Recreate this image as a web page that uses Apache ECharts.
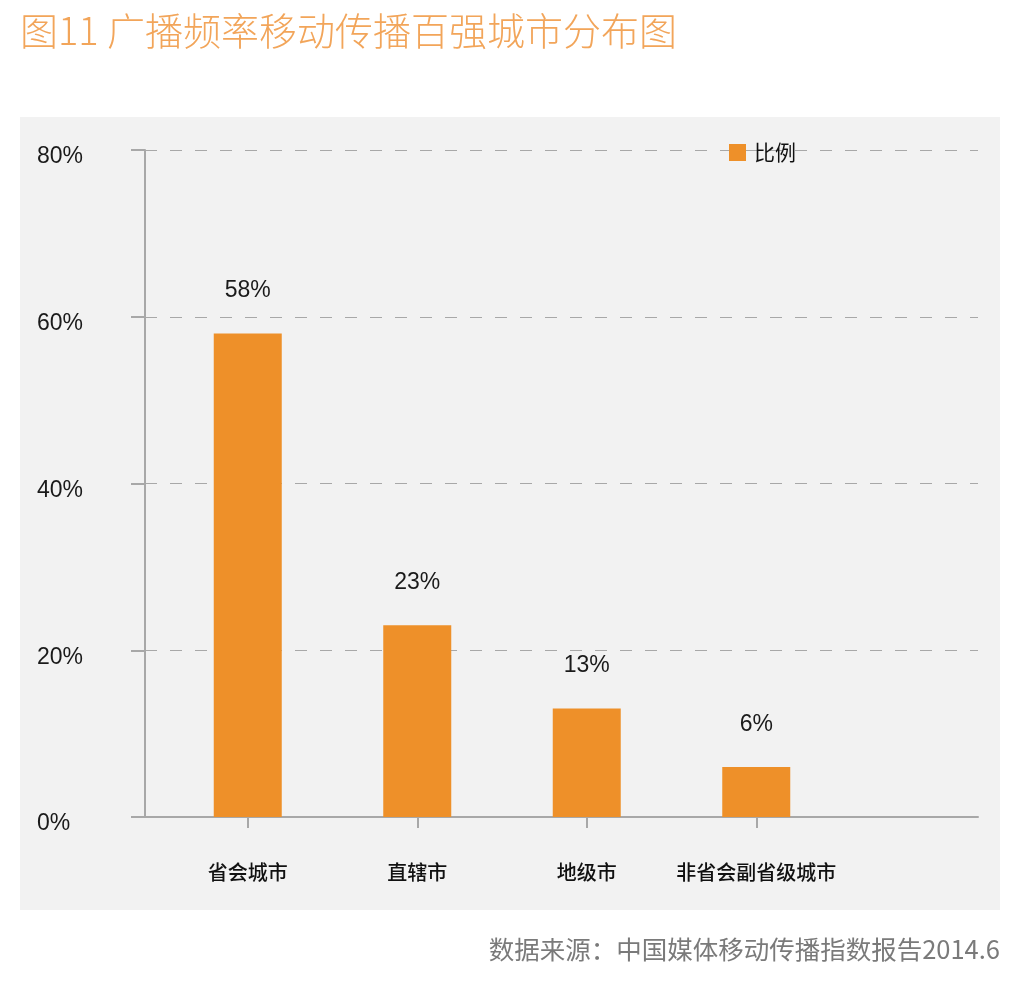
<!DOCTYPE html>
<html>
<head>
<meta charset="utf-8">
<script src="https://cdn.jsdelivr.net/npm/echarts@6/dist/echarts.min.js"></script>
<style>
    html, body { margin: 0; padding: 0; background: #fff; }
    #chart { width: 1017px; height: 1001px; }
</style>
</head>
<body>
<div id="chart"></div>
<script>
// chart data
var categories = ['省会城市', '直辖市', '地级市', '非省会副省级城市'];
var shares = [58, 23, 13, 6];
var seriesName = '比例';
var titleText = '图11 广播频率移动传播百强城市分布图';
var sourceText = '数据来源：中国媒体移动传播指数报告2014.6';

var latin = "'Liberation Sans', 'Noto Sans CJK SC', sans-serif";
var cjk = "'Noto Sans CJK SC', sans-serif";
var axisGray = '#a8a8a8';

var chart = echarts.init(document.getElementById('chart'));

var option = {
    backgroundColor: '#ffffff',
    animation: false,
    graphic: [
        // light gray panel behind the plot
        { type: 'rect', z: -10, shape: { x: 20, y: 117, width: 980, height: 793 }, style: { fill: '#f2f2f2' } },
        { type: 'text', left: 20, top: 12, style: { text: titleText, fill: '#f2a55a', font: '300 38px ' + cjk } },
        { type: 'text', right: 17, top: 937, style: { text: sourceText, fill: '#7a7a7a', font: '25.5px ' + cjk } }
    ],
    legend: {
        data: [seriesName],
        left: 724,
        top: 137,
        icon: 'rect',
        itemWidth: 17,
        itemHeight: 17,
        itemGap: 8,
        textStyle: { fontFamily: cjk, fontSize: 21, color: '#111', padding: [0, 0, 0, 3] }
    },
    grid: [
        // frame: y axis, gridlines and base line
        { left: 145, right: 39, top: 150, bottom: 184 },
        // bars: narrower band so the categories sit where they do in the picture
        { left: 163, width: 678, top: 150, bottom: 184 }
    ],
    xAxis: [
        {
            gridIndex: 0,
            type: 'value',
            min: 0,
            max: 1,
            axisLine: { show: true, lineStyle: { color: axisGray, width: 2 } },
            axisTick: { show: false },
            axisLabel: { show: false },
            splitLine: { show: false }
        },
        {
            gridIndex: 1,
            type: 'category',
            data: categories,
            axisLine: { show: false },
            axisTick: { show: true, interval: 0, alignWithLabel: true, length: 11, lineStyle: { color: axisGray, width: 2 } },
            axisLabel: { interval: 0, margin: 45, fontFamily: cjk, fontSize: 20, fontWeight: 500, color: '#111' }
        }
    ],
    yAxis: [
        {
            gridIndex: 0,
            type: 'value',
            min: 0,
            max: 80,
            interval: 20,
            axisLine: { show: true, lineStyle: { color: axisGray, width: 2 } },
            axisTick: { show: true, length: 14, lineStyle: { color: axisGray, width: 2 } },
            axisLabel: {
                formatter: '{value}%',
                align: 'left',
                verticalAlign: 'top',
                lineHeight: 14,
                margin: 108,
                fontFamily: latin,
                fontSize: 23,
                color: '#1a1a1a'
            },
            splitLine: { show: true, lineStyle: { color: axisGray, width: 1, type: [12, 13] } }
        },
        {
            gridIndex: 1,
            type: 'value',
            min: 0,
            max: 80,
            interval: 20,
            show: false
        }
    ],
    series: [
        {
            name: seriesName,
            type: 'bar',
            xAxisIndex: 1,
            yAxisIndex: 1,
            data: shares,
            barWidth: 68,
            itemStyle: { color: '#ee9029' },
            label: {
                show: true,
                position: 'top',
                distance: 31,
                formatter: '{c}%',
                fontFamily: latin,
                fontSize: 23,
                color: '#1a1a1a'
            }
        }
    ]
};

chart.setOption(option);
</script>
</body>
</html>
